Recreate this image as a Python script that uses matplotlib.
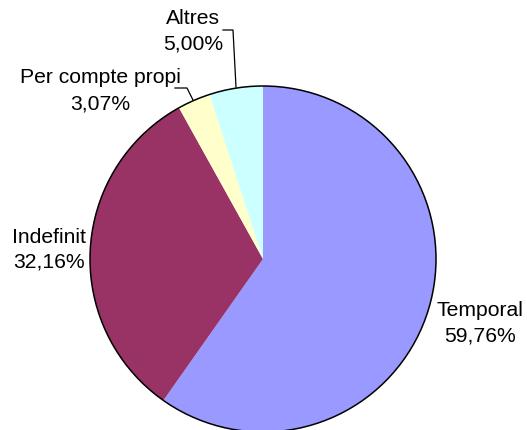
import matplotlib

matplotlib.use("Agg")
import matplotlib.pyplot as plt
from matplotlib.patches import Circle

plt.rcParams["font.family"] = ["Liberation Sans", "DejaVu Sans"]

# data (clockwise from 12 o'clock)
labels = ["Temporal", "Indefinit", "Per compte propi", "Altres"]
shares = [59.76, 32.16, 3.07, 5.00]
colors = ["#9999FF", "#993366", "#FFFFCC", "#CCFFFF"]

W, H = 527, 430
CX, CY, R = 263, H - 259, 173

fig = plt.figure(figsize=(W / 100, H / 100), dpi=100)
ax = fig.add_axes([0, 0, 1, 1])

ax.pie(shares, colors=colors, startangle=90, counterclock=False,
       center=(CX, CY), radius=R, wedgeprops=dict(linewidth=0),
       frame=True)
ax.add_patch(Circle((CX, CY), R, fill=False, edgecolor="black", linewidth=1.1))
ax.set_xlim(0, W)
ax.set_ylim(0, H)
ax.set_aspect("equal")
ax.axis("off")


def pct(v):
    return f"{v:.2f}".replace(".", ",") + "%"


# label positions in pixel coords (x center, baseline of name, baseline of value)
pos = {
    "Temporal": (480, 316, 341),
    "Indefinit": (49, 243, 267),
    "Per compte propi": (100, 83, 110),
    "Altres": (193, 24, 50),
}
for name, v in zip(labels, shares):
    x, y1, y2 = pos[name]
    ax.text(x, H - y1, name, ha="center", va="baseline", fontsize=15.2)
    ax.text(x, H - y2, pct(v), ha="center", va="baseline", fontsize=15.2)

# leader lines
ax.plot([175, 187, 193], [H - 88, H - 88, H - 100], color="black", lw=0.9)
ax.plot([223, 233, 236], [H - 30, H - 30, H - 87], color="black", lw=0.9)

fig.savefig("out.png", dpi=100, facecolor="white")
